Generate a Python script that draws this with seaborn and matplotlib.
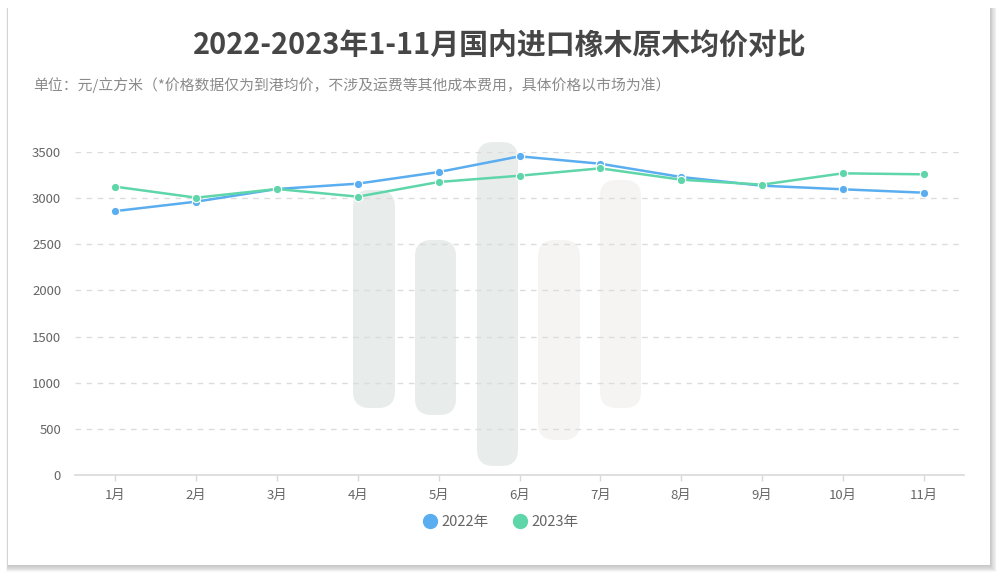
import matplotlib
matplotlib.use("Agg")
import matplotlib.pyplot as plt
import seaborn as sns
import pandas as pd
from matplotlib.patches import FancyBboxPatch, Rectangle
from matplotlib.lines import Line2D
from matplotlib.transforms import IdentityTransform

months = ["1月", "2月", "3月", "4月", "5月", "6月", "7月", "8月", "9月", "10月", "11月"]
price_2022 = [2860, 2962, 3099, 3157, 3283, 3453, 3373, 3229, 3135, 3096, 3059]
price_2023 = [3124, 3005, 3099, 3016, 3175, 3243, 3323, 3200, 3146, 3269, 3258]
series_names = ["2022年", "2023年"]
colors = ["#5aaef0", "#5fd6a9"]
yticks = [0, 500, 1000, 1500, 2000, 2500, 3000, 3500]

title = "2022-2023年1-11月国内进口橡木原木均价对比"
subtitle = "单位：元/立方米（*价格数据仅为到港均价，不涉及运费等其他成本费用，具体价格以市场为准）"

df = pd.DataFrame({
    "month": months * 2,
    "x": list(range(len(months))) * 2,
    "price": price_2022 + price_2023,
    "year": [series_names[0]] * len(months) + [series_names[1]] * len(months),
})

sns.set_theme(style="white")
plt.rcParams["font.family"] = ["Noto Sans CJK SC", "DejaVu Sans"]

W, H = 999, 576
fig = plt.figure(figsize=(W / 100, H / 100), dpi=100)
fig.patch.set_facecolor("white")

def px(x, y):
    return x / W, 1 - y / H

# card shadow + card
for i in range(8):
    off = 8 - i
    fig.patches.append(Rectangle(px(8 - off * 0.2, 565 + off * 0.9), (982 + off * 1.0) / W,
                                 (557 + off * 0.9) / H, transform=fig.transFigure,
                                 facecolor="#707070", alpha=0.055, edgecolor="none", zorder=0))
fig.patches.append(Rectangle(px(8, 565), 982 / W, 557 / H, transform=fig.transFigure,
                             facecolor="white", edgecolor="none", zorder=0.5))

# watermark shapes (decorative), in pixel coordinates
def wm(x0, y0, x1, y1, color):
    r = (x1 - x0) / 2
    fig.patches.append(FancyBboxPatch((x0, H - y1), (x1 - x0), (y1 - y0),
                                      boxstyle=f"round,pad=0,rounding_size={r * 0.8}",
                                      transform=IdentityTransform(), facecolor=color,
                                      edgecolor="none", zorder=0.6))
wm(353, 190, 395, 408, "#e8eceb")
wm(415, 240, 456, 415, "#e8eceb")
wm(477, 142, 518, 466, "#e8eceb")
wm(538, 240, 580, 440, "#f5f4f2")
wm(600, 180, 641, 408, "#f5f4f2")

x0, x1 = 75, 964
yb, yt = 475, 152
ax = fig.add_axes([x0 / W, 1 - yb / H, (x1 - x0) / W, (yb - yt) / H])
ax.set_facecolor("none")
ax.set_zorder(2)

sns.lineplot(data=df, x="x", y="price", hue="year", palette=colors, marker="o",
             markersize=6, markeredgecolor="white", markeredgewidth=0.8,
             linewidth=1.8, ax=ax, legend=False, clip_on=False)

ax.set_xlim(-0.5, len(months) - 0.5)
ax.set_ylim(0, 3500)
ax.set_xticks(range(len(months)))
ax.set_xticklabels(months)
ax.set_yticks(yticks)
ax.set_yticklabels([str(v) for v in yticks])
ax.set_xlabel("")
ax.set_ylabel("")
for v in yticks[1:]:
    ax.axhline(v, color="#dcdcdc", linewidth=1, linestyle=(0, (4, 4)), zorder=0)
for s in ["top", "right", "left"]:
    ax.spines[s].set_visible(False)
ax.spines["bottom"].set_color("#d9d9d9")
ax.spines["bottom"].set_linewidth(1.2)
ax.tick_params(axis="x", colors="#666666", labelsize=9.5, length=4, width=1,
               color="#d9d9d9", pad=6, direction="out", bottom=True)
ax.tick_params(axis="y", colors="#666666", labelsize=9.5, length=0, pad=10)

fig.text(500 / W, 1 - 46 / H, title, ha="center", va="center", fontsize=20.8,
         fontweight="bold", color="#464646")
fig.text(33 / W, 1 - 85 / H, subtitle, ha="left", va="center", fontsize=10.7, color="#8a8a8a")

handles = [Line2D([0], [0], marker="o", color="none", markerfacecolor=c, markeredgecolor=c,
                  markersize=10) for c in colors]
fig.legend(handles, series_names, loc="center", bbox_to_anchor=(500 / W, 1 - 522 / H),
           ncol=2, frameon=False, fontsize=10.5, labelcolor="#666666", handletextpad=0.2,
           columnspacing=1.5, handlelength=1.2)

fig.savefig("out.png", dpi=100, facecolor=fig.get_facecolor())
